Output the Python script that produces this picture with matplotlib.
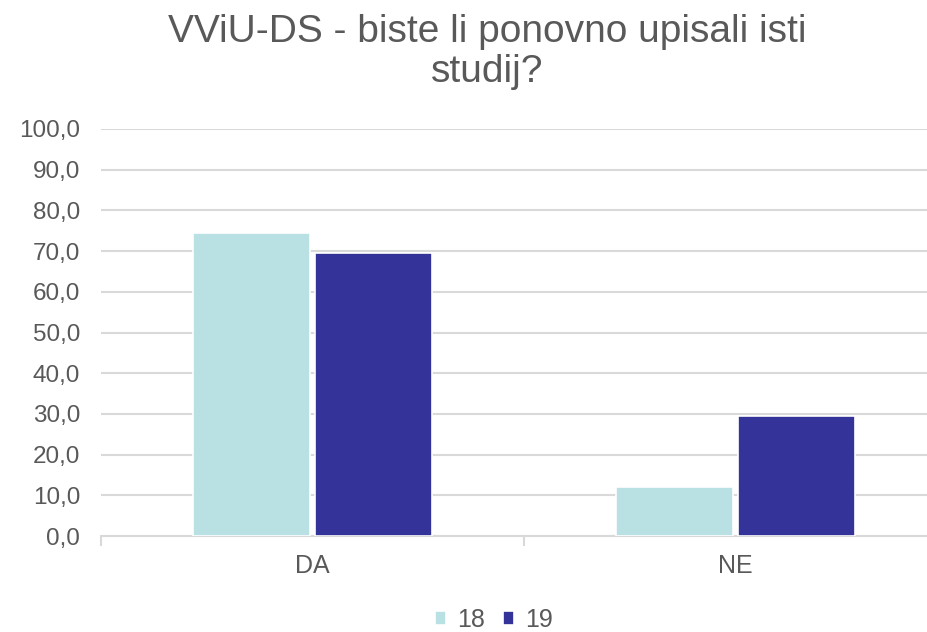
import numpy as np
import matplotlib
matplotlib.use("Agg")
import matplotlib.pyplot as plt
from matplotlib.ticker import FuncFormatter, FixedLocator

categories = ["DA", "NE"]
series_names = ["18", "19"]
values_18 = [74.5, 12.1]
values_19 = [69.6, 29.6]
y_ticks = np.arange(0, 101, 10)
title_lines = ["VViU-DS - biste li ponovno upisali isti", "studij?"]

plt.rcParams['font.family'] = ['Liberation Sans', 'DejaVu Sans']
text_color = "#595959"
grid_color = "#D9D9D9"
col_18 = "#B9E0E2"
col_19 = "#333399"

fig = plt.figure(figsize=(9.27, 6.32), dpi=100)
ax = fig.add_axes([101 / 927, (632 - 536) / 632, 846 / 927, (536 - 129) / 632])

x = np.arange(len(categories))
w = 0.277
off = 0.1435
ax.bar(x - off, values_18, width=w, color=col_18, edgecolor="white", linewidth=1.2, label=series_names[0], zorder=3)
ax.bar(x + off, values_19, width=w, color=col_19, edgecolor="white", linewidth=1.2, label=series_names[1], zorder=3)

ax.set_xlim(-0.5, len(categories) - 0.5)
ax.set_ylim(0, 100)
ax.set_yticks(y_ticks)
ax.yaxis.set_major_formatter(FuncFormatter(lambda v, p: f"{v:.1f}".replace(".", ",")))
ax.grid(axis="y", color=grid_color, linewidth=1.5, zorder=0)
ax.set_axisbelow(True)

ax.set_xticks(x)
ax.set_xticklabels(categories)
ax.xaxis.set_minor_locator(FixedLocator(np.arange(-0.5, len(categories), 1.0)))
ax.tick_params(axis="x", which="major", length=0, pad=13, labelsize=18, labelcolor=text_color)
ax.tick_params(axis="x", which="minor", length=7, width=1.5, color=grid_color)
ax.tick_params(axis="y", length=0, pad=15, labelsize=17.5, labelcolor=text_color)

for s in ["top", "right", "left"]:
    ax.spines[s].set_visible(False)
ax.spines["bottom"].set_color(grid_color)
ax.spines["bottom"].set_linewidth(1.5)

# title as two lines, baselines placed separately
for i, line in enumerate(title_lines):
    fig.text(487 / 927, 1 - (42 + 40 * i) / 632, line, ha="center", va="baseline",
             fontsize=28, color=text_color)

fig.legend(loc="center", bbox_to_anchor=(494 / 927, 1 - 620 / 632), ncol=2, frameon=False,
           fontsize=18, labelcolor=text_color, handlelength=0.45, handleheight=0.45,
           handletextpad=0.45, columnspacing=0.7)

fig.savefig("out.png", dpi=100)
